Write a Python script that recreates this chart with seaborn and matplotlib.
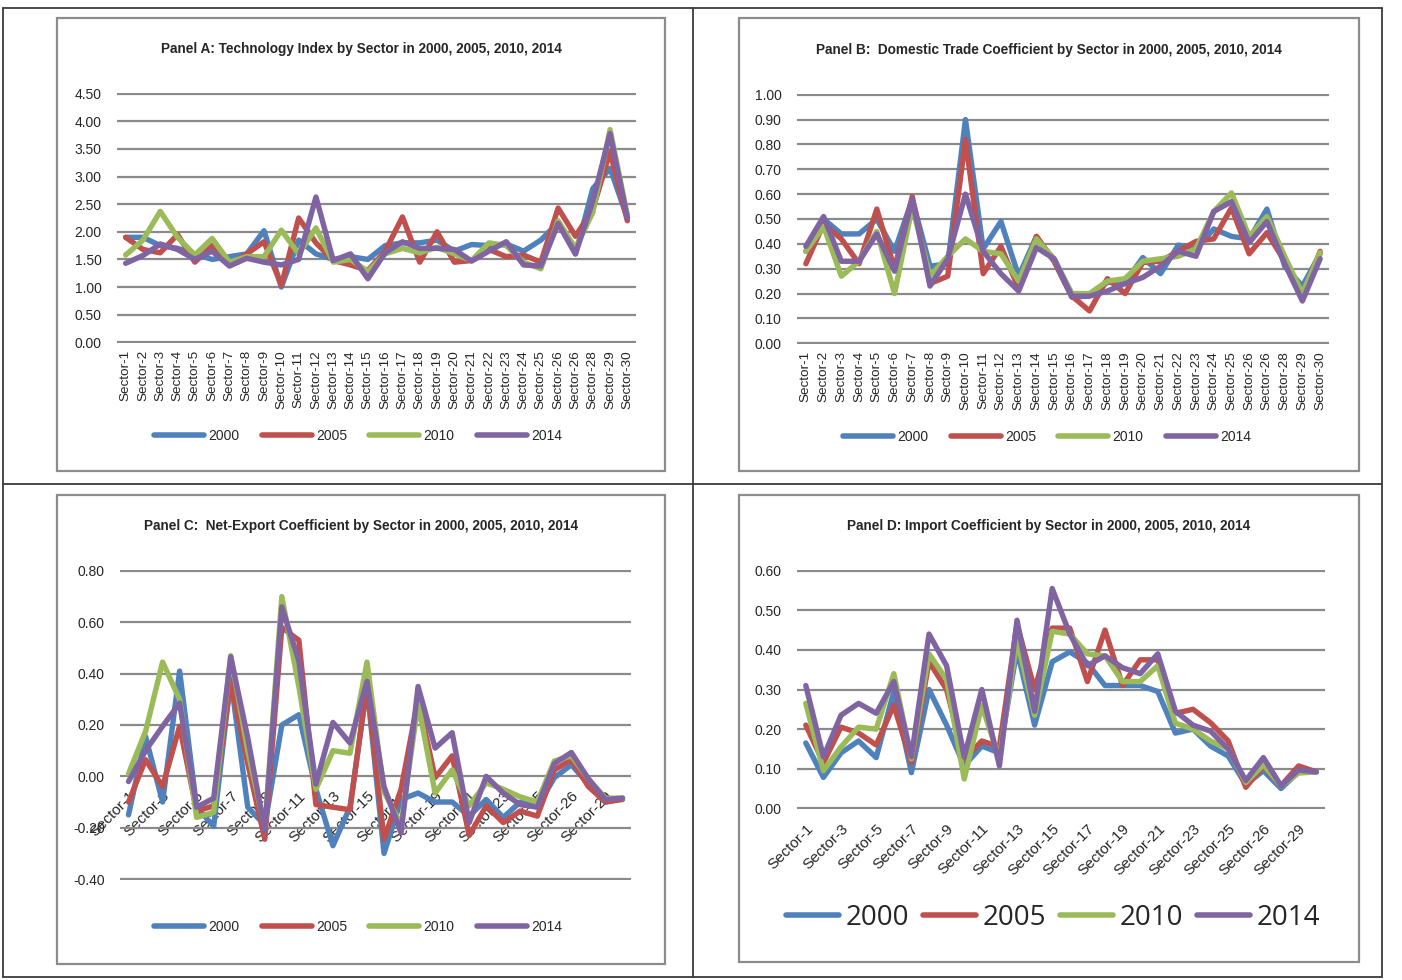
import matplotlib
matplotlib.use('Agg')
import matplotlib.pyplot as plt
from matplotlib.patches import Rectangle
from matplotlib.lines import Line2D
import seaborn as sns
import pandas as pd
import numpy as np

# Sector labels as printed in the original (Sector-26 appears twice, no Sector-27)
sectors = [f'Sector-{i}' for i in range(1, 27)] + ['Sector-26', 'Sector-28', 'Sector-29', 'Sector-30']
years = ['2000', '2005', '2010', '2014']
colors = ['#4F81BD', '#C0504D', '#9BBB59', '#8064A2']

# Panel A: technology index
tech_2000 = [1.90, 1.90, 1.75, 1.70, 1.60, 1.50, 1.55, 1.60, 2.02, 1.00, 1.85, 1.60, 1.50, 1.55, 1.50,
             1.75, 1.80, 1.80, 1.85, 1.65, 1.77, 1.75, 1.78, 1.65, 1.85, 2.17, 1.60, 2.78, 3.15, 2.25]
tech_2005 = [1.90, 1.68, 1.62, 1.95, 1.45, 1.75, 1.40, 1.60, 1.82, 1.03, 2.25, 1.80, 1.48, 1.40, 1.30,
             1.65, 2.27, 1.45, 2.00, 1.45, 1.48, 1.68, 1.55, 1.58, 1.45, 2.43, 1.92, 2.40, 3.45, 2.20]
tech_2010 = [1.58, 1.85, 2.37, 1.90, 1.58, 1.88, 1.45, 1.55, 1.55, 2.03, 1.60, 2.07, 1.45, 1.50, 1.28,
             1.60, 1.70, 1.62, 1.72, 1.60, 1.48, 1.80, 1.75, 1.45, 1.33, 2.20, 1.70, 2.35, 3.85, 2.30]
tech_2014 = [1.43, 1.57, 1.78, 1.68, 1.50, 1.65, 1.38, 1.52, 1.45, 1.40, 1.50, 2.63, 1.48, 1.60, 1.15,
             1.62, 1.82, 1.70, 1.70, 1.68, 1.47, 1.65, 1.82, 1.40, 1.38, 2.15, 1.60, 2.55, 3.78, 2.25]

# Panel B: domestic trade coefficient
dom_2000 = [0.37, 0.50, 0.44, 0.44, 0.50, 0.37, 0.58, 0.31, 0.32, 0.90, 0.38, 0.49, 0.27, 0.43, 0.33,
            0.185, 0.19, 0.245, 0.245, 0.345, 0.28, 0.395, 0.38, 0.46, 0.43, 0.42, 0.54, 0.31, 0.23, 0.36]
dom_2005 = [0.32, 0.48, 0.42, 0.32, 0.54, 0.30, 0.59, 0.24, 0.27, 0.82, 0.28, 0.39, 0.22, 0.43, 0.33,
            0.19, 0.13, 0.26, 0.20, 0.325, 0.33, 0.37, 0.41, 0.42, 0.545, 0.36, 0.445, 0.33, 0.19, 0.37]
dom_2010 = [0.37, 0.47, 0.27, 0.33, 0.45, 0.20, 0.55, 0.27, 0.35, 0.42, 0.37, 0.36, 0.25, 0.42, 0.34,
            0.20, 0.20, 0.25, 0.26, 0.33, 0.34, 0.35, 0.38, 0.53, 0.605, 0.43, 0.51, 0.35, 0.20, 0.365]
dom_2014 = [0.39, 0.51, 0.33, 0.33, 0.44, 0.29, 0.58, 0.23, 0.34, 0.60, 0.37, 0.28, 0.21, 0.385, 0.34,
            0.19, 0.19, 0.21, 0.24, 0.265, 0.31, 0.37, 0.35, 0.53, 0.57, 0.405, 0.49, 0.32, 0.17, 0.34]

# Panel C: net-export coefficient
netx_2000 = [-0.15, 0.155, -0.10, 0.41, -0.12, -0.195, 0.38, -0.12, -0.19, 0.20, 0.24, -0.05, -0.27, -0.12, 0.35,
             -0.30, -0.09, -0.065, -0.10, -0.10, -0.155, -0.09, -0.16, -0.10, -0.12, -0.005, 0.045, -0.03, -0.10, -0.085]
netx_2005 = [-0.10, 0.065, -0.04, 0.195, -0.135, -0.115, 0.37, 0.05, -0.245, 0.58, 0.53, -0.11, -0.12, -0.13, 0.36,
             -0.245, -0.05, 0.30, -0.005, 0.08, -0.23, -0.115, -0.18, -0.135, -0.155, 0.025, 0.065, -0.04, -0.10, -0.09]
netx_2010 = [0.01, 0.175, 0.445, 0.30, -0.16, -0.14, 0.47, 0.10, -0.20, 0.70, 0.35, -0.05, 0.10, 0.09, 0.445,
             -0.06, -0.19, 0.285, -0.065, 0.025, -0.115, -0.025, -0.05, -0.08, -0.10, 0.06, 0.08, -0.01, -0.085, -0.085]
netx_2014 = [-0.02, 0.10, 0.195, 0.285, -0.12, -0.085, 0.465, 0.15, -0.21, 0.66, 0.45, -0.03, 0.21, 0.13, 0.37,
             -0.04, -0.22, 0.35, 0.11, 0.17, -0.18, 0.0, -0.065, -0.11, -0.12, 0.05, 0.093, -0.01, -0.09, -0.085]

# Panel D: import coefficient
imp_2000 = [0.165, 0.078, 0.14, 0.17, 0.128, 0.295, 0.09, 0.30, 0.21, 0.107, 0.157, 0.14, 0.40, 0.21, 0.37,
            0.395, 0.367, 0.31, 0.31, 0.31, 0.295, 0.19, 0.20, 0.157, 0.132, 0.06, 0.095, 0.05, 0.092, 0.092]
imp_2005 = [0.21, 0.115, 0.205, 0.19, 0.16, 0.26, 0.115, 0.37, 0.30, 0.125, 0.17, 0.155, 0.465, 0.30, 0.455,
            0.455, 0.32, 0.45, 0.31, 0.375, 0.375, 0.24, 0.25, 0.216, 0.17, 0.053, 0.107, 0.057, 0.107, 0.092]
imp_2010 = [0.265, 0.095, 0.155, 0.205, 0.20, 0.34, 0.125, 0.39, 0.325, 0.074, 0.26, 0.125, 0.425, 0.235, 0.447,
            0.44, 0.39, 0.385, 0.32, 0.32, 0.36, 0.215, 0.20, 0.17, 0.15, 0.065, 0.11, 0.057, 0.089, 0.092]
imp_2014 = [0.31, 0.13, 0.235, 0.265, 0.24, 0.32, 0.13, 0.44, 0.36, 0.13, 0.30, 0.107, 0.475, 0.245, 0.555,
            0.44, 0.36, 0.385, 0.355, 0.34, 0.39, 0.245, 0.21, 0.195, 0.15, 0.07, 0.128, 0.057, 0.097, 0.092]

W, H = 1402, 980
NARROW = ['Liberation Sans Narrow', 'Liberation Sans', 'DejaVu Sans']
REGULAR = ['Liberation Sans', 'DejaVu Sans']

sns.set_theme(style='white')
plt.rcParams['font.family'] = REGULAR


def px_axes(fig, x0, y0, x1, y1):
    """Add axes from pixel box (top-left origin)"""
    return fig.add_axes([x0 / W, 1 - y1 / H, (x1 - x0) / W, (y1 - y0) / H])


def long_frame(series):
    rows = []
    for year, vals in zip(years, series):
        for i, v in enumerate(vals):
            rows.append({'pos': i, 'sector': sectors[i], 'year': year, 'value': v})
    return pd.DataFrame(rows)


PANELS = [
    dict(title='Panel A: Technology Index by Sector in 2000, 2005, 2010, 2014',
         series=[tech_2000, tech_2005, tech_2010, tech_2014],
         box=(57, 18, 665, 471), plot=(117, 93, 636, 343), ylim=(0, 4.5), step=0.5,
         title_xy=(361, 49), legend_xy=(358, 436), style='ab'),
    dict(title='Panel B:  Domestic Trade Coefficient by Sector in 2000, 2005, 2010, 2014',
         series=[dom_2000, dom_2005, dom_2010, dom_2014],
         box=(739, 18, 1359, 471), plot=(797, 94, 1329, 344), ylim=(0, 1.0), step=0.1,
         title_xy=(1049, 50), legend_xy=(1047, 437), style='ab'),
    dict(title='Panel C:  Net-Export Coefficient by Sector in 2000, 2005, 2010, 2014',
         series=[netx_2000, netx_2005, netx_2010, netx_2014],
         box=(57, 495, 665, 964), plot=(120, 570, 631, 880), ylim=(-0.4, 0.8), step=0.2,
         title_xy=(361, 526), legend_xy=(358, 927), style='c'),
    dict(title='Panel D: Import Coefficient by Sector in 2000, 2005, 2010, 2014',
         series=[imp_2000, imp_2005, imp_2010, imp_2014],
         box=(739, 495, 1359, 962), plot=(797, 570, 1325, 809), ylim=(0, 0.6), step=0.1,
         title_xy=(1049, 526), legend_xy=(1053, 918), style='d'),
]

fig = plt.figure(figsize=(W / 100, H / 100), dpi=100)

# outer table grid
for x in (3, 693, 1382):
    fig.add_artist(Line2D([x / W, x / W], [1 - 8 / H, 1 - 977 / H], color='#3a3a3a', lw=1.3))
for y in (8, 484, 977):
    fig.add_artist(Line2D([3 / W, 1382 / W], [1 - y / H, 1 - y / H], color='#3a3a3a', lw=1.3))

for p in PANELS:
    bx0, by0, bx1, by1 = p['box']
    fig.add_artist(Rectangle((bx0 / W, 1 - by1 / H), (bx1 - bx0) / W, (by1 - by0) / H,
                             transform=fig.transFigure, fill=False, edgecolor='#8c8c8c', lw=1.6))

    ax = px_axes(fig, *p['plot'])
    df = long_frame(p['series'])
    sns.lineplot(data=df, x='pos', y='value', hue='year', hue_order=years, palette=colors,
                 sort=False, legend=False, ax=ax, linewidth=3.9,
                 solid_joinstyle='round', solid_capstyle='round')

    if p['style'] == 'c':
        # category axis crosses at zero, labels hang from it (set before tick labels)
        ax.spines['bottom'].set_position(('data', 0))

    lo, hi = p['ylim']
    span = hi - lo
    ax.set_ylim(lo - span * 0.003, hi + span * 0.003)
    ax.set_xlim(-0.5, len(sectors) - 0.5)
    yt = np.round(np.arange(lo, hi + p['step'] / 2, p['step']), 2)
    ax.set_yticks(yt)
    ax.set_yticklabels([f'{v:.2f}' for v in yt], fontsize=10, family=REGULAR)
    ax.yaxis.grid(True, color='#8a8a8a', lw=1.6)
    ax.xaxis.grid(False)
    ax.set_axisbelow(True)
    for s in ax.spines.values():
        s.set_visible(False)
    ax.set_xlabel('')
    ax.set_ylabel('')
    ax.tick_params(axis='both', length=0)
    ax.tick_params(axis='y', pad=11)
    ax.set_facecolor('none')

    if p['style'] == 'ab':
        ax.set_xticks(range(len(sectors)))
        ax.set_xticklabels(sectors, rotation=90, fontsize=9.7, family=NARROW)
        ax.tick_params(axis='x', pad=5)
    else:
        pos = list(range(0, len(sectors), 2))
        ax.set_xticks(pos)
        ax.set_xticklabels([sectors[i] for i in pos], fontsize=11, family=REGULAR,
                           rotation=45, ha='right', rotation_mode='anchor')
        ax.tick_params(axis='x', pad=9)

    fig.text(p['title_xy'][0] / W, 1 - p['title_xy'][1] / H, p['title'],
             ha='center', va='center', fontsize=9.8, fontweight='bold', family=NARROW)

    handles = [Line2D([], [], color=c, lw=4, solid_capstyle='round') for c in colors]
    lx, ly = p['legend_xy']
    if p['style'] == 'd':
        fig.legend(handles, years, loc='center', bbox_to_anchor=(lx / W, 1 - ly / H), ncol=4,
                   frameon=False, prop={'family': ['Open Sans', 'DejaVu Sans'], 'size': 20},
                   handlelength=1.9, handletextpad=0.25, columnspacing=0.5)
    else:
        fig.legend(handles, years, loc='center', bbox_to_anchor=(lx / W, 1 - ly / H), ncol=4,
                   frameon=False, prop={'family': NARROW, 'size': 10},
                   handlelength=3.6, handletextpad=0.3, columnspacing=1.6)

fig.savefig('out.png', dpi=100, facecolor='white')
